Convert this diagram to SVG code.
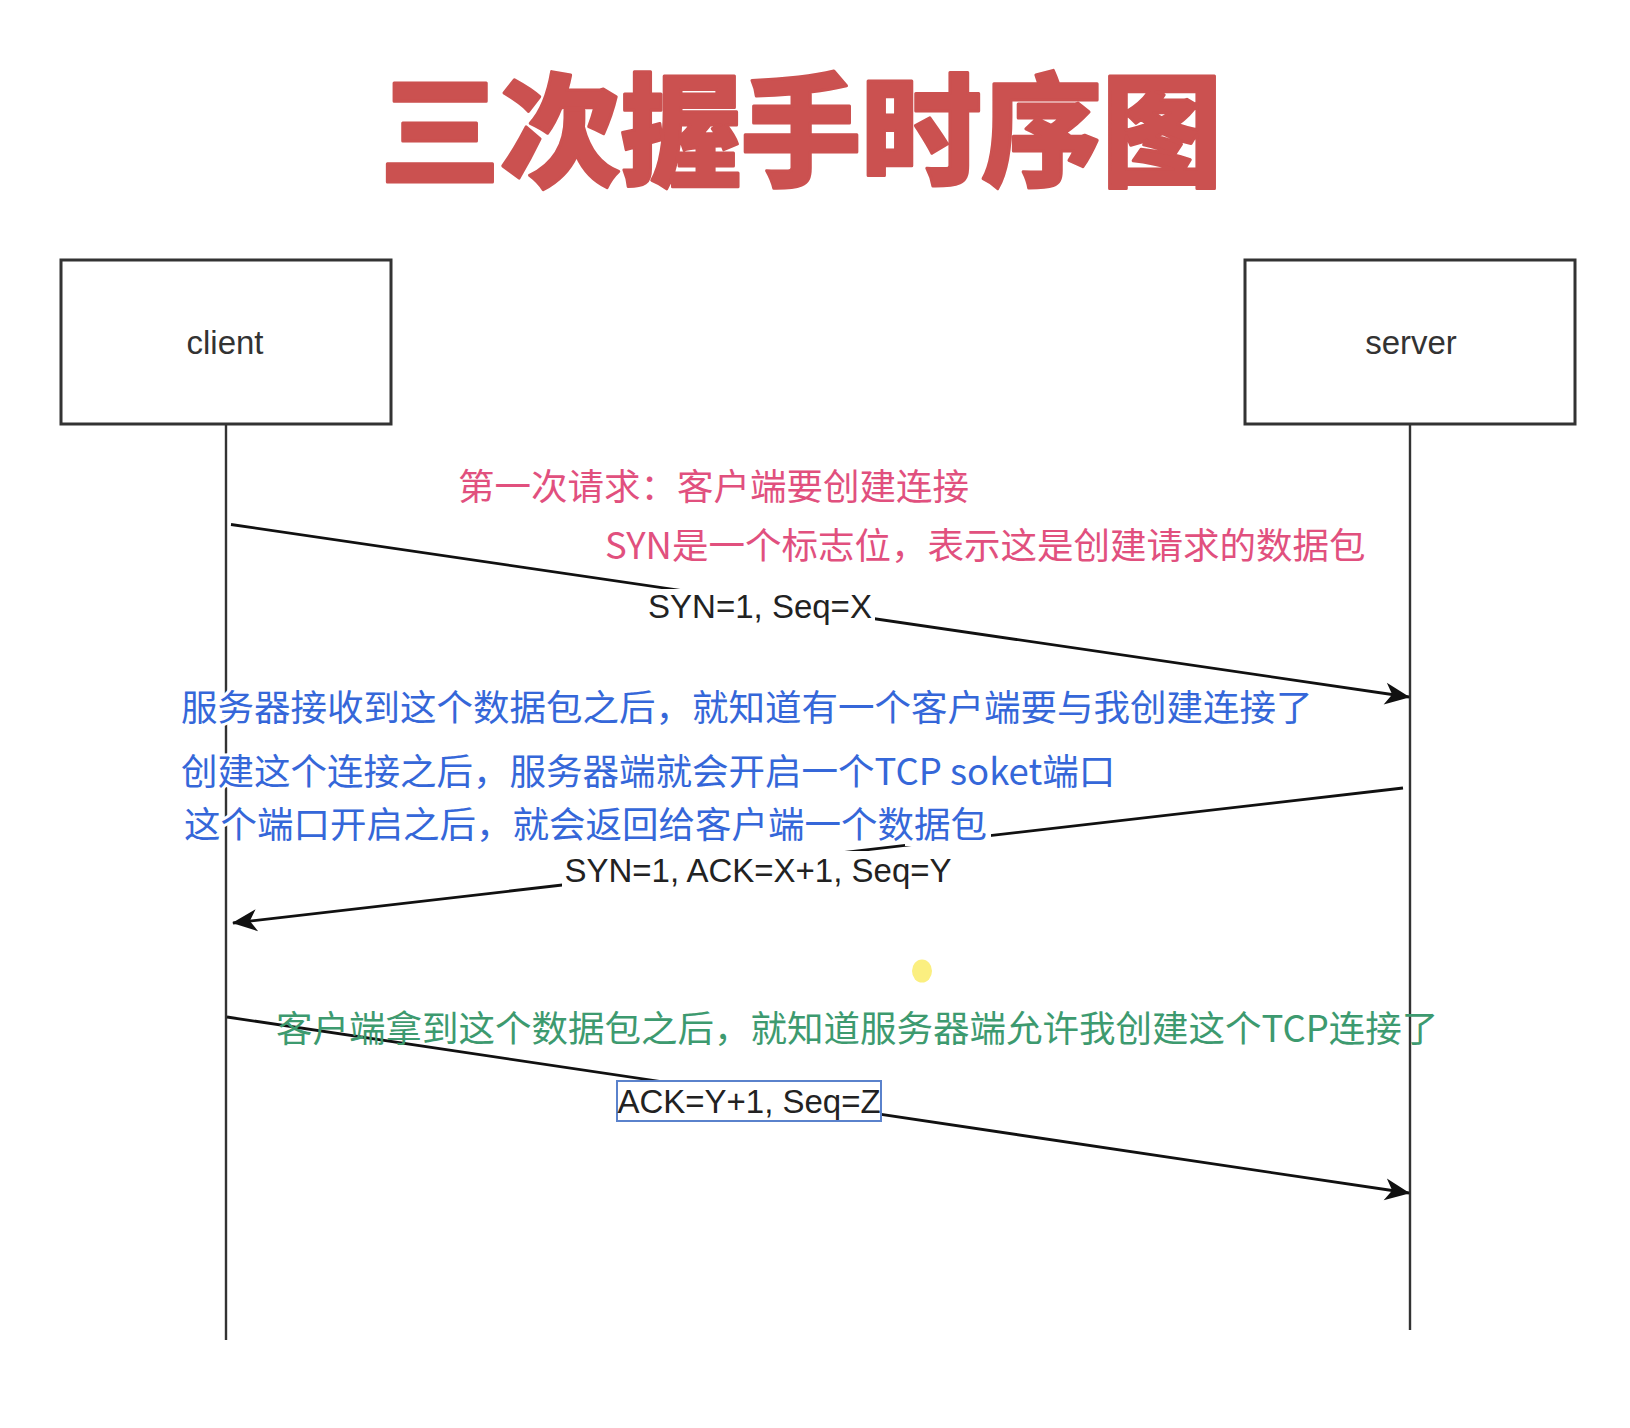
<svg xmlns="http://www.w3.org/2000/svg" width="1630" height="1428" viewBox="0 0 1630 1428">
<style>
.box{fill:#fff;stroke:#333;stroke-width:3}
.life{stroke:#333;stroke-width:2.4;fill:none}
.msg{stroke:#111;stroke-width:2.8;fill:none}
.nodeText{font-family:"Liberation Sans",Arial,sans-serif;font-size:33px;fill:#333;text-anchor:middle}
.lbl{font-family:"Liberation Sans",Arial,sans-serif;font-size:33px;fill:#222;text-anchor:middle}
.note{font-family:"Noto Sans CJK SC","Noto Sans",sans-serif;font-size:36.5px}
.pink{fill:#e1507e}
.blue{fill:#3567d9;stroke:#fff;stroke-width:6;paint-order:stroke;stroke-linejoin:round}
.green{fill:#3d9a6f}
.title{font-family:"Noto Sans CJK SC",sans-serif;font-weight:900;font-size:122px;fill:#cb5150;stroke:#cb5150;stroke-width:3;stroke-linejoin:round}
</style>
<defs>
<marker id="arrow" markerUnits="userSpaceOnUse" viewBox="-27 -13 29 26" markerWidth="29" markerHeight="26" refX="0" refY="0" orient="auto">
<path d="M1,0 L-24,-11 L-17,0 L-24,11 Z" fill="#111"/>
</marker>
</defs>
<rect x="0" y="0" width="1630" height="1428" fill="#fff"/>

<g id="title">
<text class="title" x="380" y="176" textLength="842" lengthAdjust="spacingAndGlyphs">三次握手时序图</text>
</g>

<g id="lifelines">
<line class="life" x1="226" y1="424" x2="226" y2="1340"/>
<line class="life" x1="1410" y1="424" x2="1410" y2="1330"/>
</g>

<g id="client">
<rect class="box" x="61" y="260" width="330" height="164"/>
<text class="nodeText" x="225" y="354">client</text>
</g>

<g id="server">
<rect class="box" x="1245" y="260" width="330" height="164"/>
<text class="nodeText" x="1411" y="354">server</text>
</g>

<g id="connectors">
<line class="msg" x1="231" y1="524.5" x2="1409" y2="697" marker-end="url(#arrow)"/>
<line class="msg" x1="1403" y1="788" x2="233" y2="923" marker-end="url(#arrow)"/>
<line class="msg" x1="227" y1="1017" x2="1409" y2="1193" marker-end="url(#arrow)"/>
</g>

<g id="label-syn">
<rect x="645" y="589" width="230" height="37" fill="#fff"/>
<text class="lbl" x="760" y="618">SYN=1, Seq=X</text>
</g>

<g id="label-synack">
<rect x="562" y="851" width="392" height="38" fill="#fff"/>
<text class="lbl" x="758" y="882">SYN=1, ACK=X+1, Seq=Y</text>
</g>

<g id="label-ack">
<rect x="617" y="1081" width="264" height="40" fill="#fff" stroke="#5a82cc" stroke-width="2"/>
<text class="lbl" x="749" y="1113">ACK=Y+1, Seq=Z</text>
</g>

<g id="note-first">
<text class="note pink" x="458" y="500">第一次请求：客户端要创建连接</text>
<text class="note pink" x="605" y="559">SYN是一个标志位，表示这是创建请求的数据包</text>
</g>

<g id="note-second">
<rect x="905" y="812" width="86" height="34" fill="#fff"/>
<text class="note blue" x="181" y="721">服务器接收到这个数据包之后，就知道有一个客户端要与我创建连接了</text>
<text class="note blue" x="181" y="785">创建这个连接之后，服务器端就会开启一个TCP soket端口</text>
<text class="note blue" x="184" y="838">这个端口开启之后，就会返回给客户端一个数据包</text>
</g>

<g id="note-third">
<text class="note green" x="276" y="1042">客户端拿到这个数据包之后，就知道服务器端允许我创建这个TCP连接了</text>
</g>

<ellipse cx="922" cy="971" rx="10" ry="11.5" fill="#fbef80"/>
</svg>
